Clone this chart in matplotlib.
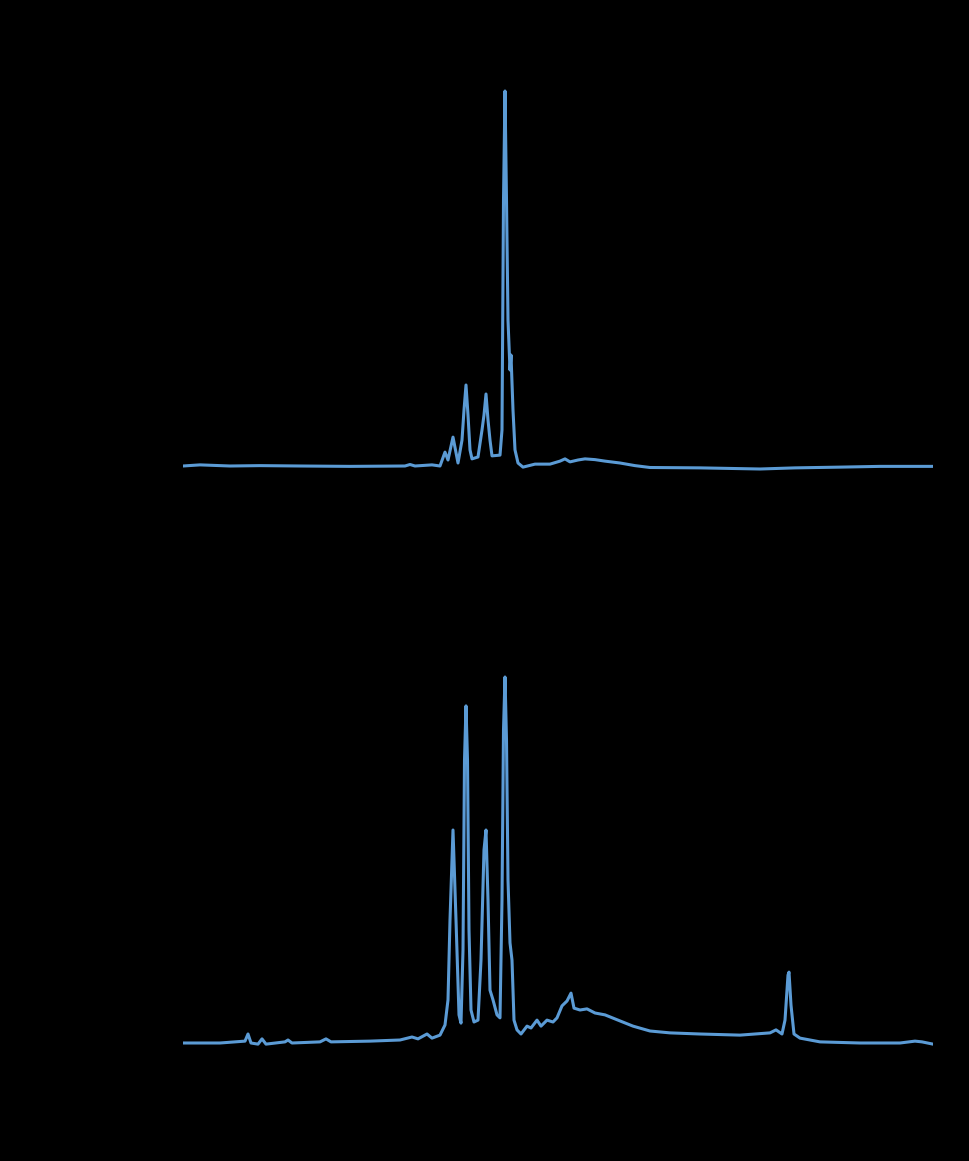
import matplotlib
matplotlib.use("Agg")
import matplotlib.pyplot as plt

# 上图（样品1）：保留时间 / 响应值
t_top = [0.00, 0.68, 1.88, 3.08, 4.68, 6.68, 8.88, 9.08, 9.28, 9.96, 10.28,
         10.48, 10.60, 10.80, 11.00, 11.16, 11.24, 11.32, 11.40, 11.48, 11.56,
         11.80, 11.96, 12.04, 12.12, 12.20, 12.28, 12.36, 12.68, 12.76, 12.82,
         12.88, 12.94, 13.00, 13.08, 13.12, 13.20, 13.28, 13.40, 13.60, 14.08,
         14.68, 15.08, 15.28, 15.48, 15.80, 16.08, 16.48, 16.88, 17.48, 18.08,
         18.68, 20.68, 23.08, 24.48, 26.28, 27.88, 30.00]
y_top = [0, 0.3, 0, 0.1, 0, -0.1, 0, 0.4, 0, 0.3, 0,
         3.7, 1.6, 7.7, 0.8, 6.9, 14.9, 21.6, 13.6, 4.3, 1.9,
         2.4, 9.6, 13.6, 19.2, 12.3, 6.9, 2.7, 2.9, 9.6, 70.9,
         100, 70.9, 38.9, 25.6, 29.6, 14.9, 4.3, 0.8, -0.3, 0.5,
         0.5, 1.3, 1.9, 1.1, 1.6, 1.9, 1.7, 1.3, 0.8, 0.1,
         -0.4, -0.5, -0.8, -0.5, -0.3, -0.1, -0.1]

# 下图（样品2）
t_bot = [0.00, 1.48, 2.48, 2.60, 2.72, 3.00, 3.16, 3.32, 4.08, 4.20, 4.36,
         5.48, 5.72, 5.92, 7.48, 8.68, 9.16, 9.40, 9.76, 9.96, 10.28,
         10.48, 10.60, 10.68, 10.80, 10.92, 11.04, 11.12, 11.20, 11.26, 11.32,
         11.38, 11.44, 11.52, 11.64, 11.80, 11.92, 12.04, 12.12, 12.20, 12.28,
         12.40, 12.56, 12.68, 12.76, 12.82, 12.88, 12.94, 13.00, 13.08, 13.16,
         13.24, 13.36, 13.52, 13.76, 13.92, 14.16, 14.32, 14.56, 14.80, 14.96,
         15.16, 15.36, 15.52, 15.64, 15.88, 16.16, 16.48, 16.88, 17.40, 18.00,
         18.68, 19.48, 20.68, 22.28, 23.48, 23.72, 23.96, 24.08, 24.20, 24.24,
         24.32, 24.44, 24.68, 25.48, 27.08, 28.68, 29.28, 29.56, 30.00]
y_bot = [0, 0, 0.5, 2.4, 0, -0.3, 1.1, -0.3, 0.3, 0.8, 0,
         0.3, 1.1, 0.3, 0.5, 0.8, 1.6, 1.1, 2.4, 1.3, 2.1,
         4.8, 11.5, 32.8, 56.8, 32.8, 7.5, 5.3, 24.8, 75.5, 89.9,
         75.5, 30.1, 8.8, 5.6, 6.1, 22.1, 51.5, 56.8, 38.1, 14.1,
         11.5, 7.5, 6.7, 38.1, 83.5, 97.6, 80.8, 43.5, 26.7, 22.1,
         6.1, 3.5, 2.4, 4.5, 4.0, 6.1, 4.5, 6.1, 5.6, 6.7,
         9.9, 11.2, 13.3, 9.3, 8.8, 9.1, 8.0, 7.5, 6.1, 4.5,
         3.2, 2.7, 2.4, 2.1, 2.7, 3.5, 2.4, 6.1, 18.1, 18.9,
         10.1, 2.4, 1.3, 0.3, 0, 0, 0.5, 0.3, -0.3]

line_color = '#5b9bd5'

W, H = 969, 1161
fig = plt.figure(figsize=(W / 100, H / 100), dpi=100)
fig.patch.set_facecolor('black')

# 坐标轴位置（像素换算）
x0, x1 = 183, 933
scale = 3.75  # 每单位响应值对应的像素
ylo, yhi = -5, 105
h_px = (yhi - ylo) * scale

for base, t, y in [(466, t_top, y_top), (1043, t_bot, y_bot)]:
    bottom_px = base + (-ylo) * scale
    ax = fig.add_axes([x0 / W, (H - bottom_px) / H, (x1 - x0) / W, h_px / H])
    ax.set_facecolor('black')
    ax.plot(t, y, color=line_color, lw=2.2, solid_joinstyle='round')
    ax.set_xlim(0, 30)
    ax.set_ylim(ylo, yhi)
    ax.axis('off')

fig.savefig('out.png', dpi=100, facecolor='black')
